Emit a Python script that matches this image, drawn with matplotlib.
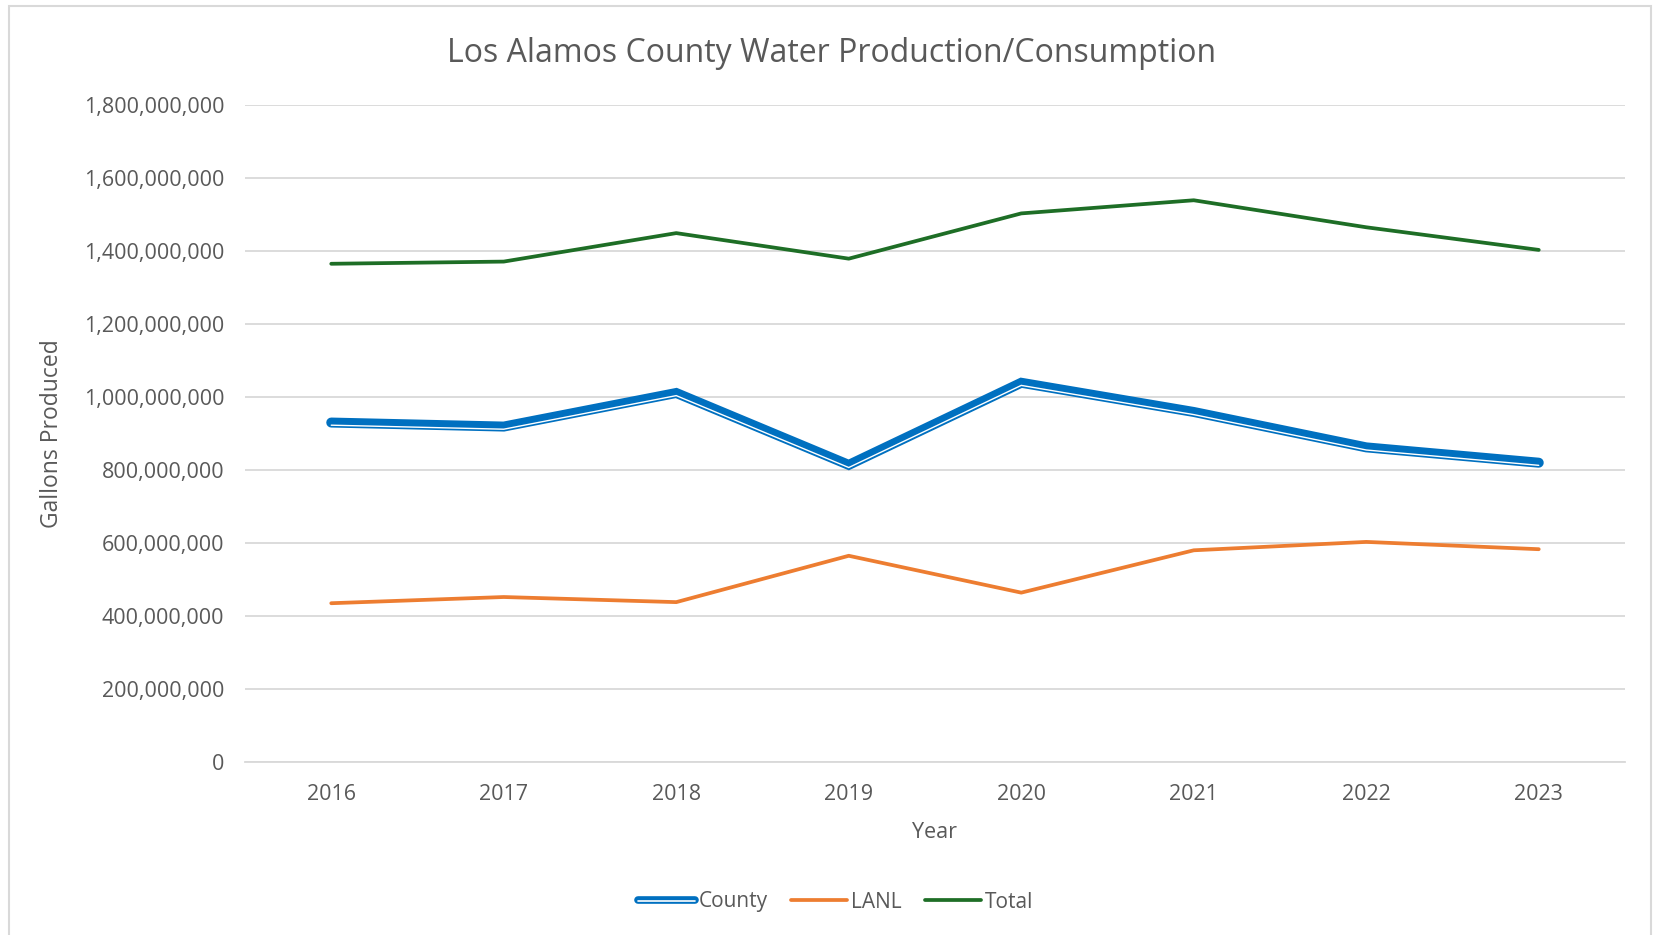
import matplotlib
matplotlib.use("Agg")
import matplotlib.pyplot as plt
import matplotlib.patheffects as pe
from matplotlib.patches import Rectangle
from matplotlib.ticker import FuncFormatter

years = ["2016", "2017", "2018", "2019", "2020", "2021", "2022", "2023"]
county = [930e6, 919e6, 1011e6, 814e6, 1039e6, 959e6, 862e6, 820e6]
lanl = [435e6, 452e6, 438e6, 565e6, 464e6, 580e6, 603e6, 583e6]
total = [1365e6, 1371e6, 1449e6, 1379e6, 1503e6, 1539e6, 1465e6, 1403e6]

plt.rcParams['font.family'] = ['Open Sans', 'DejaVu Sans']
txt = '#595959'
grid = '#d9d9d9'

fig = plt.figure(figsize=(16.59, 9.35), dpi=100)
ax = fig.add_axes([245/1659, 1-762/935, (1625-245)/1659, (762-105)/935])

x = list(range(len(years)))

# county drawn as a thick/thin double line
double = [pe.Normal(), pe.Stroke(offset=(0, -1.9), linewidth=1.0, foreground='white')]
ax.plot(x, county, color='#0070c0', lw=7.2, solid_capstyle='round',
        solid_joinstyle='miter', label='County', zorder=3, path_effects=double)
ax.plot(x, lanl, color='#ed7d31', lw=2.7, solid_capstyle='round', label='LANL', zorder=3)
ax.plot(x, total, color='#1e6e26', lw=2.7, solid_capstyle='round', label='Total', zorder=3)

ax.set_xlim(-0.5, 7.5)
ax.set_ylim(0, 1.8e9)
ax.set_yticks([i * 200e6 for i in range(10)])
ax.yaxis.set_major_formatter(FuncFormatter(lambda v, p: f"{int(v):,}"))
ax.set_xticks(x)
ax.set_xticklabels(years)

ax.grid(axis='y', color=grid, lw=1.3)
ax.set_axisbelow(True)
for s in ['top', 'right', 'left']:
    ax.spines[s].set_visible(False)
ax.spines['bottom'].set_color(grid)
ax.spines['bottom'].set_linewidth(1.3)
ax.tick_params(length=0, labelsize=15.5, colors=txt, pad=15)
ax.tick_params(axis='x', pad=16)

ax.set_xlabel('Year', fontsize=15.5, color=txt, labelpad=12)
ax.set_ylabel('Gallons Produced', fontsize=16.5, color=txt, labelpad=14)

fig.text(832/1659, 1 - 53/935, 'Los Alamos County Water Production/Consumption',
         ha='center', va='center', fontsize=23, color=txt)

leg = fig.legend(loc='center', bbox_to_anchor=(836/1659, 1 - 902/935), ncol=3, frameon=False,
                 fontsize=15, labelcolor=txt, handlelength=2.7, handletextpad=0.2,
                 columnspacing=1.1)
h = leg.legend_handles[0]
h.set_linewidth(5.5)
h.set_path_effects([pe.Normal(), pe.Stroke(offset=(0, -0.6), linewidth=1.2, foreground='white')])

fig.patches.append(Rectangle((9/1659, -0.02), (1651-9)/1659, 1.02 - 6/935, transform=fig.transFigure,
                             fill=False, edgecolor=grid, lw=1.5))

fig.savefig('out.png', dpi=100, facecolor='white')
